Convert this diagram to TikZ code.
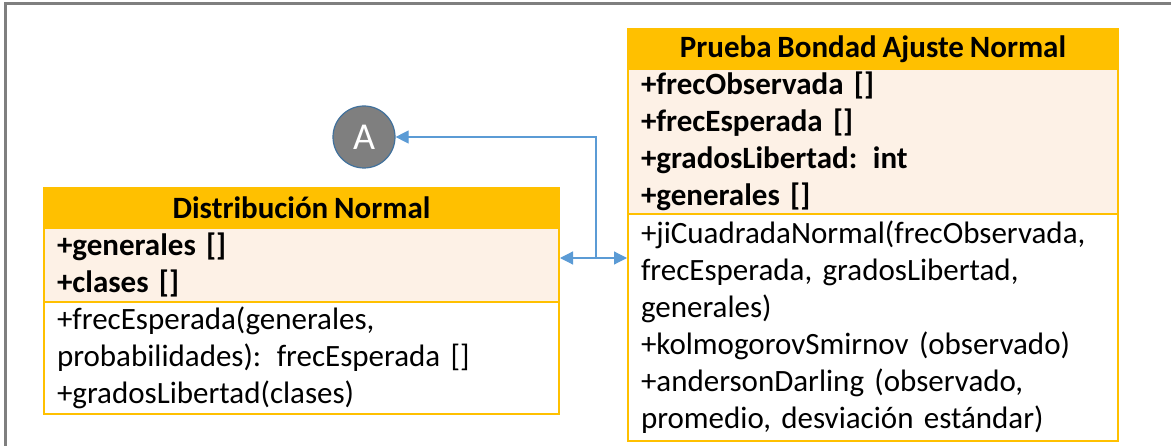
\documentclass[tikz,border=0pt]{standalone}
\usepackage{fontspec}
\setmainfont{Carlito}
\usetikzlibrary{arrows.meta}
\definecolor{amarillo}{HTML}{FFC000}
\definecolor{crema}{HTML}{FDF1E6}
\definecolor{azul}{HTML}{5B9BD5}
\definecolor{gris}{HTML}{7F7F7F}
\definecolor{bordeA}{HTML}{41719C}
\newcommand{\letra}{\fontsize{31}{37}\selectfont\spaceskip=0.19em}
\tikzset{
  cabecera/.style = {draw=amarillo, fill=amarillo, anchor=north west, inner sep=0pt,
    font=\letra\bfseries, line width=2pt},
  atributos/.style = {draw=amarillo, fill=crema, anchor=north west, align=left, inner xsep=13pt,
    inner ysep=0pt, font=\letra\bfseries, line width=2pt},
  metodos/.style = {draw=amarillo, fill=white, anchor=north west, align=left, inner xsep=13pt,
    inner ysep=0pt, font=\letra, line width=2pt},
  enlace/.style = {draw=azul, line width=1.2pt, -{Triangle[length=13pt, width=13pt]}}
}
\begin{document}
\begin{tikzpicture}[x=1pt, y=-1pt]
        \useasboundingbox (0,0) rectangle (1171,446);
        % marco
        \draw [gris, line width=3pt] ( 5, 446 ) -- ( 5, 4 ) -- ( 1171, 4 );

        % Distribución Normal
        \node [cabecera, minimum width=515pt, minimum height=40pt] (dnCab) at ( 43, 187 ) {Distribución Normal};
        \node [atributos, text width=489pt, minimum height=74pt] (dnAtr) at ( 43, 227 ) {+generales []\\+clases []};
        \node [metodos, text width=489pt, minimum height=112pt] (dnMet) at ( 43, 301 ) {+frecEsperada(generales,\\probabilidades): frecEsperada []\\+gradosLibertad(clases)};

        % Prueba Bondad Ajuste Normal
        \node [cabecera, minimum width=490pt, minimum height=40pt] (pbCab) at ( 627, 28 ) {Prueba Bondad Ajuste Normal};
        \node [atributos, text width=464pt, minimum height=145pt] (pbAtr) at ( 627, 68 ) {+frecObservada []\\+frecEsperada []\\+gradosLibertad: int\\+generales []};
        \node [metodos, text width=464pt, minimum height=227pt] (pbMet) at ( 627, 213 ) {+jiCuadradaNormal(frecObservada,\\frecEsperada, gradosLibertad,\\generales)\\+kolmogorovSmirnov (observado)\\+andersonDarling (observado,\\promedio, desviación estándar)};

        % conector A
        \node [circle, draw=bordeA, fill=gris, line width=1.2pt, text=white, minimum width=62pt, minimum height=58pt, inner sep=0pt,
               font=\fontsize{38}{38}\selectfont] (circA) at ( 364, 137 ) {A};

        % flechas
        \coordinate (union) at ( 596, 258 );
        \draw [enlace] (union) |- (circA.east);
        \draw [enlace, {Triangle[length=13pt, width=13pt]}-{Triangle[length=13pt, width=13pt]}] (dnAtr.east |- union) -- (pbMet.west |- union);
\end{tikzpicture}
\end{document}
